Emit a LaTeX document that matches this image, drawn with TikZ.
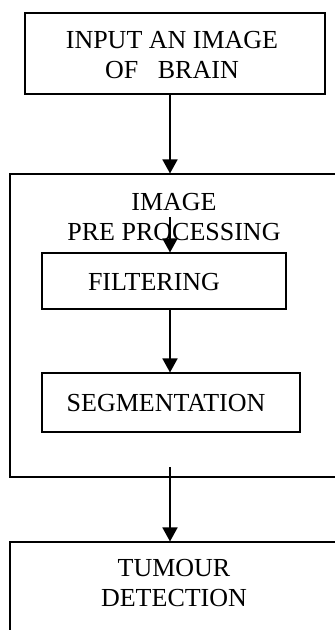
\documentclass[tikz,border=0pt]{standalone}
\usepackage{fontspec}
\setmainfont{Liberation Serif}
\usetikzlibrary{arrows.meta}
\begin{document}
\begin{tikzpicture}[x=1pt,y=-1pt,
  box/.style={draw=black,line width=1.1pt,inner sep=0pt,rectangle},
  lbl/.style={font=\fontsize{26}{30}\selectfont,align=center,inner sep=0pt},
  arr/.style={line width=1.8pt,-{Triangle[length=14pt,width=15pt]}}]
\useasboundingbox (0,0) rectangle (335,630);
\clip (0,0) rectangle (335,630);
% boxes
\node[box,minimum width=300pt,minimum height=81pt] (top) at (175,53.5) {};
\node[box,minimum width=335pt,minimum height=303pt] (pre) at (177.5,325.5) {};
\node[box,minimum width=244pt,minimum height=56pt] (filt) at (164,281) {};
\node[box,minimum width=258pt,minimum height=59pt] (seg) at (171,402.5) {};
\node[box,minimum width=335pt,minimum height=110pt] (tum) at (177.5,597) {};
% texts
\node[lbl] (toptxt) at (172,55) {INPUT AN IMAGE\\OF\ \ \ BRAIN};
\node[lbl] (pretxt) at (174,217) {IMAGE\\PRE PROCESSING};
\node[lbl] (filttxt) at (154,282) {FILTERING};
\node[lbl] (segtxt) at (166,403) {SEGMENTATION};
\node[lbl] (tumtxt) at (174,583) {TUMOUR\\DETECTION};
% connectors
\coordinate (ax) at (170,0);
\coordinate (s1) at (170,217);
\coordinate (s2) at (170,467);
\draw[arr] (ax |- top.south) -- (ax |- pre.north);
\draw[arr] (s1) -- (ax |- filt.north);
\draw[arr] (ax |- filt.south) -- (ax |- seg.north);
\draw[arr] (s2) -- (ax |- tum.north);
\end{tikzpicture}
\end{document}
